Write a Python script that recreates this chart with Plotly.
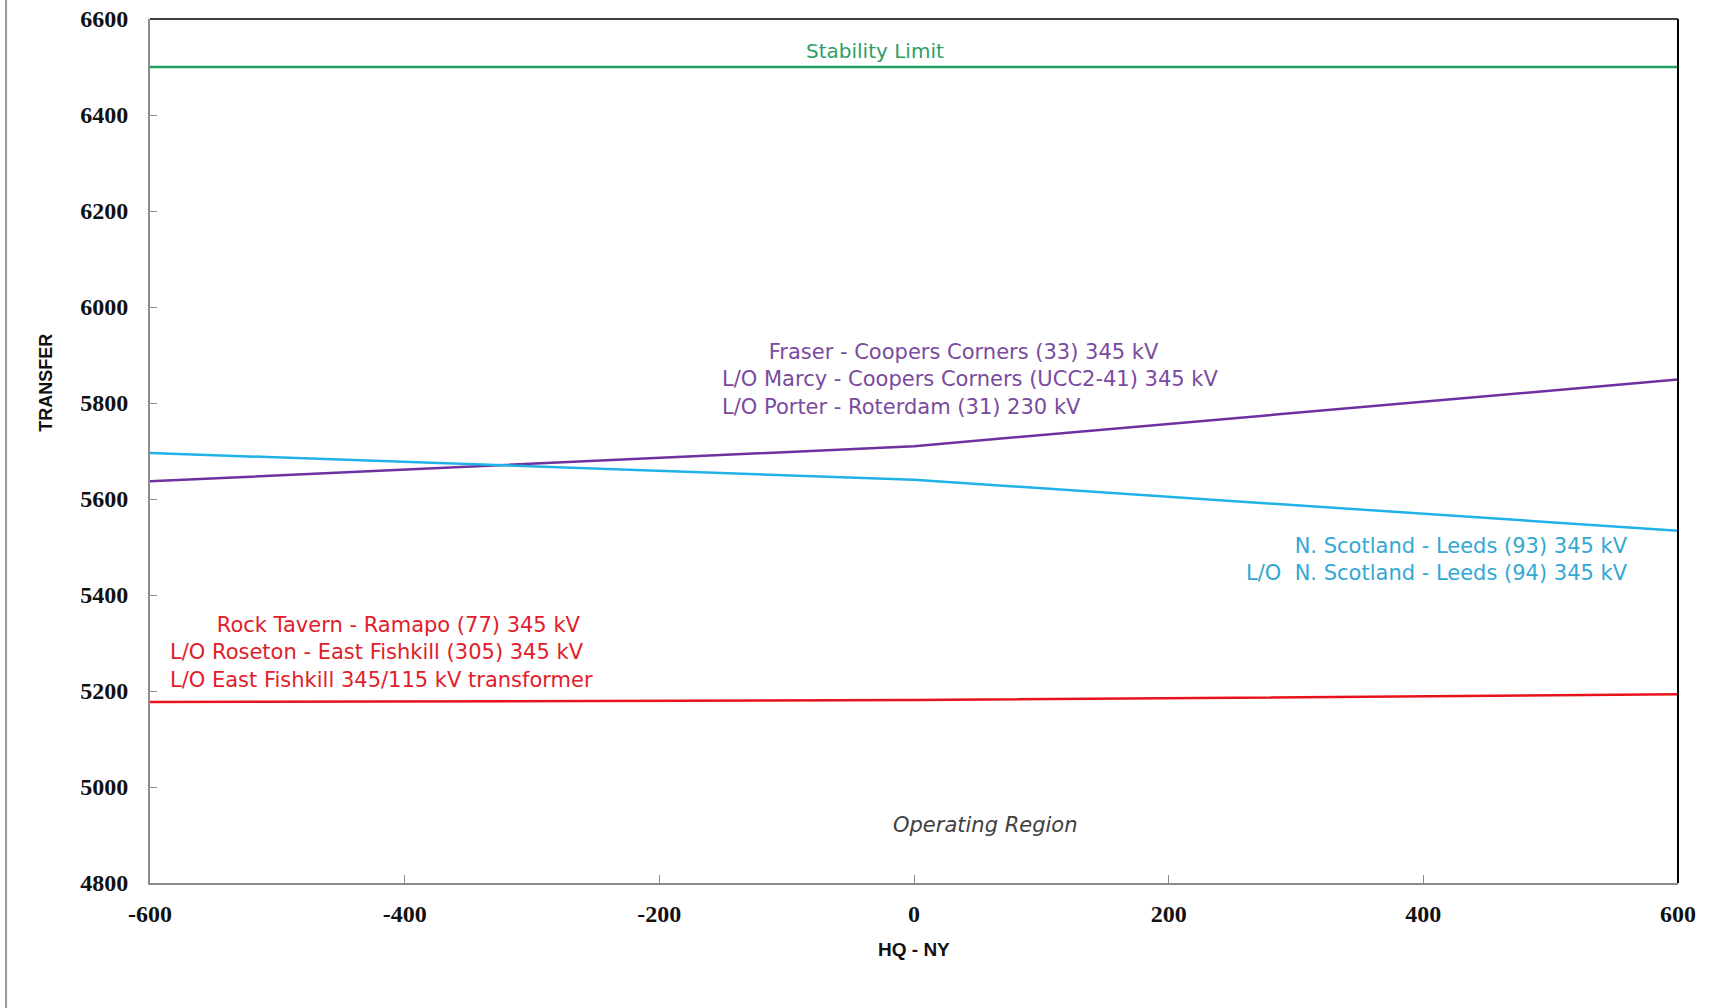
import plotly.graph_objects as go

# ---- data ----
hq_ny = [-600, 0, 600]
stability_limit = [6500, 6500, 6500]
fraser_coopers = [5637, 5710, 5849]
scotland_leeds = [5696, 5640, 5534]
rock_tavern = [5177, 5181, 5193]

x_ticks = [-600, -400, -200, 0, 200, 400, 600]
y_ticks = [4800, 5000, 5200, 5400, 5600, 5800, 6000, 6200, 6400, 6600]

labels = {
    "stability": "Stability Limit",
    "purple": "       Fraser - Coopers Corners (33) 345 kV<br>L/O Marcy - Coopers Corners (UCC2-41) 345 kV<br>L/O Porter - Roterdam (31) 230 kV",
    "blue": "N. Scotland - Leeds (93) 345 kV<br>L/O  N. Scotland - Leeds (94) 345 kV",
    "red": "       Rock Tavern - Ramapo (77) 345 kV<br>L/O Roseton - East Fishkill (305) 345 kV<br>L/O East Fishkill 345/115 kV transformer",
    "region": "Operating Region",
}

GREEN = "#1FA05E"
PURPLE = "#7030A0"
BLUE = "#20B2E6"
RED = "#E8121C"

fig = go.Figure()
fig.add_trace(go.Scatter(x=hq_ny, y=stability_limit, mode="lines", line=dict(color=GREEN, width=2.5), showlegend=False))
fig.add_trace(go.Scatter(x=hq_ny, y=fraser_coopers, mode="lines", line=dict(color=PURPLE, width=2.5), showlegend=False))
fig.add_trace(go.Scatter(x=hq_ny, y=scotland_leeds, mode="lines", line=dict(color=BLUE, width=2.5), showlegend=False))
fig.add_trace(go.Scatter(x=hq_ny, y=rock_tavern, mode="lines", line=dict(color=RED, width=2.5), showlegend=False))

txt_font = "DejaVu Sans, Verdana, sans-serif"
bold_font = "Liberation Sans, Arial, sans-serif"
ann = [
    dict(x=-31, y=6533, text=labels["stability"], font=dict(color="#2E9E66", size=20, family=txt_font),
         xanchor="center", yanchor="middle", showarrow=False),
    dict(x=-152, y=5850, text=labels["purple"], font=dict(color="#7A4A9E", size=21, family=txt_font),
         xanchor="left", yanchor="middle", align="left", showarrow=False),
    dict(x=562, y=5474, text=labels["blue"], font=dict(color="#33A8D2", size=21, family=txt_font),
         xanchor="right", yanchor="middle", align="right", showarrow=False),
    dict(x=-586, y=5280, text=labels["red"], font=dict(color="#E0202A", size=21, family=txt_font),
         xanchor="left", yanchor="middle", align="left", showarrow=False),
    dict(x=56, y=4921, text=labels["region"], font=dict(color="#404040", size=21, family=txt_font, style="italic"),
         xanchor="center", yanchor="middle", showarrow=False),
    dict(x=-0.068, y=0.579, xref="paper", yref="paper", text="TRANSFER", textangle=-90,
         font=dict(color="#111111", size=18, family=bold_font, weight="bold"),
         xanchor="center", yanchor="middle", showarrow=False),
    dict(x=0.5, y=-0.0764, xref="paper", yref="paper", text="HQ - NY",
         font=dict(color="#111111", size=19, family=bold_font, weight="bold"),
         xanchor="center", yanchor="middle", showarrow=False),
]

shapes = [
    # outer left border line
    dict(type="line", xref="paper", yref="paper", x0=-0.0942, x1=-0.0942, y0=-0.15, y1=1.03,
         line=dict(color="#9A9A9A", width=2)),
    # top border of plot
    dict(type="line", xref="paper", yref="paper", x0=0, x1=1, y0=1, y1=1, line=dict(color="#404040", width=2)),
    # right border of plot
    dict(type="line", xref="paper", yref="paper", x0=1, x1=1, y0=0, y1=1, line=dict(color="#000000", width=2)),
]

tick_font = dict(family="Liberation Serif, Times New Roman, serif", size=24, color="#111111", weight="bold")

fig.update_layout(
    width=1722, height=1008,
    margin=dict(l=150, r=44, t=19, b=125),
    paper_bgcolor="white", plot_bgcolor="white",
    annotations=ann, shapes=shapes,
    xaxis=dict(range=[-600, 600], tickvals=x_ticks, ticktext=[str(v) for v in x_ticks],
               showgrid=False, zeroline=False, showline=True, linecolor="#8C8C8C", linewidth=2,
               ticks="inside", ticklen=8, tickcolor="#8C8C8C", tickwidth=1, automargin=False,
               tickfont=tick_font, ticklabelstandoff=8),
    yaxis=dict(range=[4800, 6600], tickvals=y_ticks, ticktext=[str(v) for v in y_ticks],
               showgrid=False, zeroline=False, showline=True, linecolor="#8C8C8C", linewidth=2,
               ticks="inside", ticklen=7, tickcolor="#8C8C8C", tickwidth=1, automargin=False,
               tickfont=tick_font, ticklabelstandoff=15),
)

fig.write_html("out.html", config={"displayModeBar": False},
               post_script="document.body.style.margin='0';document.body.style.overflow='hidden';")
